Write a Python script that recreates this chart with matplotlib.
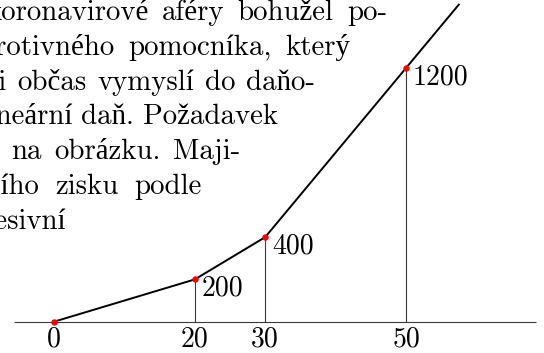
import matplotlib
matplotlib.use('Agg')
import matplotlib.pyplot as plt
from matplotlib.font_manager import FontProperties

# ---- data ----
x_points = [0, 20, 30, 50]
y_points = [0, 200, 400, 1200]
x_end = 57.5
y_end = 1500
x_tick_values = [0, 20, 30, 50]
x_tick_labels = ['0', '20', '30', '50']
point_labels = ['200', '400', '1200']
axis_from, axis_to = -5.65, 68.4

cut_words = ['koronavirové', 'protivného', 'si', 'nelineární', '', 'ročního', 'progresivní']
line_words = [
    ['aféry', 'bohužel', 'po-'],
    ['pomocníka,', 'který'],
    ['občas', 'vymyslí', 'do', 'daňo-'],
    ['daň.', 'Požadavek'],
    ['na', 'obrázku.', 'Maji-'],
    ['zisku', 'podle'],
    [],
]

# ---- layout (pixels) ----
W, H = 544, 353
line_left = [162, 128, 17, 81, 11, 55, None]
line_right = [387, 350, 315, 278, 240, 202, 66]
baselines = [20.0, 54.8, 89.6, 124.4, 159.2, 194.0, 228.8]

fig = plt.figure(figsize=(W / 100, H / 100), dpi=100)
ax = fig.add_axes([0, 0, 1, 1])
ax.axis('off')
ax.set_xlim(-7.67, 69.6)
ax.set_ylim(-148.1, 1521.8)

fp = FontProperties(family=['cmr10', 'Liberation Serif'], size=20.8)
fp_num = FontProperties(family=['cmr10', 'DejaVu Serif'], size=20)

ax.hlines(0, axis_from, axis_to, color='#3a3a3a', lw=0.8)
ax.vlines(x_points[1:], 0, y_points[1:], color='#3a3a3a', lw=0.8)
ax.plot(x_points + [x_end], y_points + [y_end], color='black', lw=1.4, zorder=2)
ax.plot(x_points, y_points, 'o', color='#ff0000', ms=4.6, mec='none', zorder=3)

for xv, yv, lab in zip(x_points[1:], y_points[1:], point_labels):
    ax.annotate(lab, (xv, yv), xytext=(7 * 0.72, -16.5 * 0.72), textcoords='offset points',
                ha='left', va='baseline', fontproperties=fp_num)

for xv, lab in zip(x_tick_values, x_tick_labels):
    ax.annotate(lab, (xv, 0), xytext=(0, -24.5 * 0.72), textcoords='offset points',
                ha='center', va='baseline', fontproperties=fp_num)

fig.canvas.draw()
renderer = fig.canvas.get_renderer()

def fx(px):
    return px / W

def fy(py):
    return 1 - py / H

for cut, words, L, R, base in zip(cut_words, line_words, line_left, line_right, baselines):
    if not words:
        fig.text(fx(R), fy(base), cut, ha='right', va='baseline', fontproperties=fp)
        continue
    widths = []
    for w in words:
        t = fig.text(0, 0, w, fontproperties=fp)
        widths.append(t.get_window_extent(renderer).width)
        t.remove()
    n = len(words)
    gap = (R - L - sum(widths)) / (n - 1) if n > 1 else 10
    gap = max(6, min(gap, 16))
    x = L
    for w, wd in zip(words, widths):
        fig.text(fx(x), fy(base), w, ha='left', va='baseline', fontproperties=fp)
        x += wd + gap
    if cut:
        fig.text(fx(L - gap), fy(base), cut, ha='right', va='baseline', fontproperties=fp)

fig.savefig('out.png', dpi=100)
